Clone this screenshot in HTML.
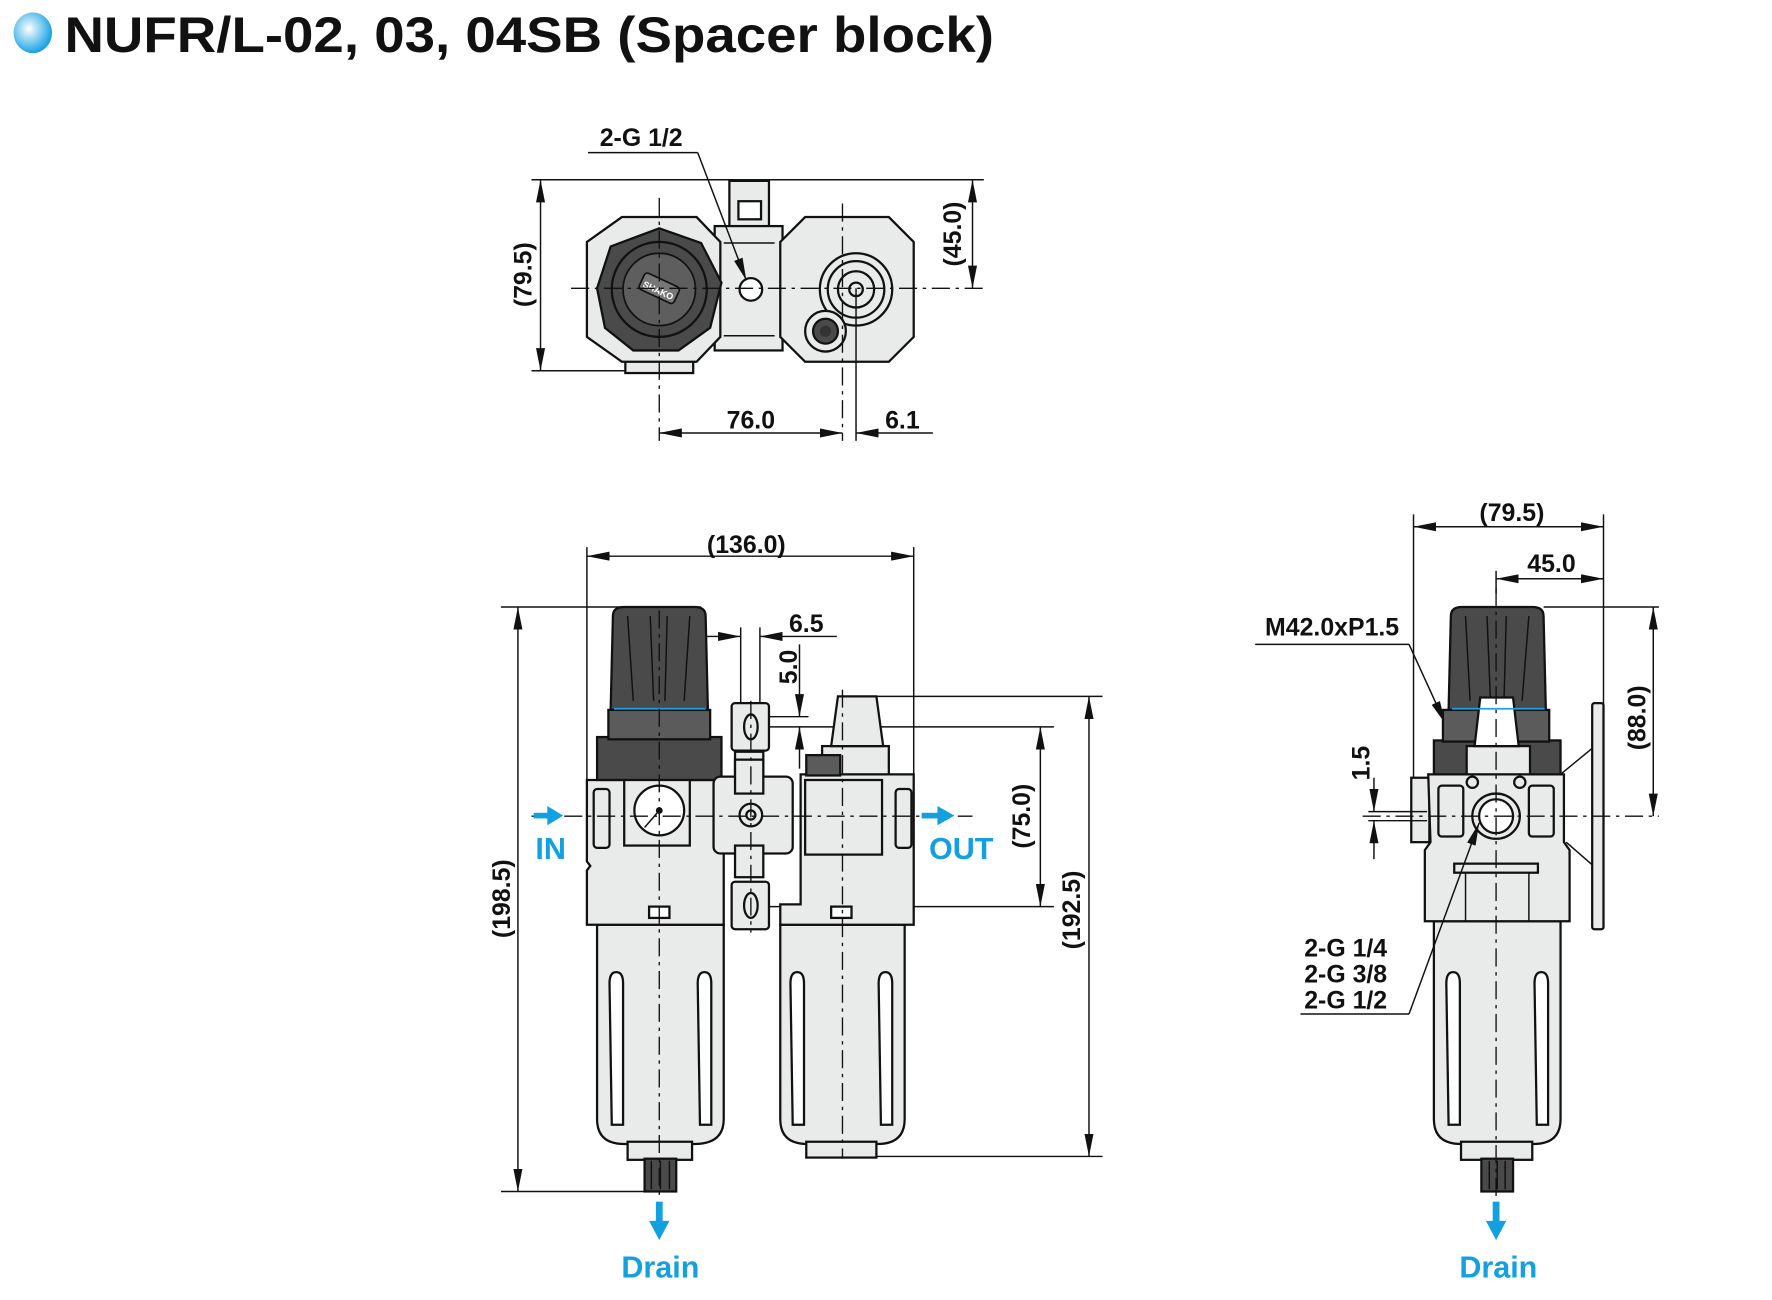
<!DOCTYPE html>
<html><head><meta charset="utf-8"><style>
html,body{margin:0;padding:0;background:#fff;}
svg{display:block;}
text{font-family:"Liberation Sans",sans-serif;font-weight:bold;fill:#111;}
.b{fill:#e9ebea;stroke:#111;stroke-width:2;}
.d{fill:#5b5b5b;stroke:#111;stroke-width:2;}
.dk{fill:#4a4a4a;stroke:#111;stroke-width:2;}
.l{stroke:#111;stroke-width:1.3;fill:none;}
.c{stroke:#111;stroke-width:1.2;fill:none;stroke-dasharray:16 5 3 5;}
.w{fill:#fff;stroke:#111;stroke-width:2;}
.blue{fill:#12a0e0;}
</style></head><body>
<svg width="1772" height="1300" viewBox="0 0 1567 1150" preserveAspectRatio="none" xmlns="http://www.w3.org/2000/svg">
<defs>
<marker id="a" viewBox="0 0 20 8" refX="20" refY="4" markerWidth="20" markerHeight="8" markerUnits="userSpaceOnUse" orient="auto-start-reverse"><path d="M0,0 L20,4 L0,8 Z" fill="#111"/></marker>
<radialGradient id="g" cx="0.4" cy="0.4" r="0.6"><stop offset="0" stop-color="#fff"/><stop offset="1" stop-color="#1aa3e4"/></radialGradient>
</defs>
<ellipse cx="29" cy="29" rx="17" ry="18" fill="url(#g)"/>
<text x="57" y="46" font-size="44" textLength="822" lengthAdjust="spacingAndGlyphs">NUFR/L-02, 03, 04SB (Spacer block)</text>

<line class="l" x1="470" y1="159" x2="870" y2="159"/>
<line class="l" x1="470" y1="328" x2="580" y2="328"/>
<line class="l" x1="478" y1="159" x2="478" y2="328" marker-start="url(#a)" marker-end="url(#a)"/>
<text x="470" y="243" font-size="22" text-anchor="middle" transform="rotate(-90 470 243)">(79.5)</text>
<line class="l" x1="860" y1="159" x2="860" y2="255" marker-start="url(#a)" marker-end="url(#a)"/>
<text x="850" y="207" font-size="22" text-anchor="middle" transform="rotate(-90 850 207)">(45.0)</text>
<rect class="b" x="645" y="160" width="35" height="42"/>
<rect class="w" x="653" y="178" width="20" height="16"/>
<rect class="b" x="632" y="200" width="60" height="110"/>
<line class="l" x1="640" y1="215" x2="685" y2="215"/><line class="l" x1="640" y1="297" x2="685" y2="297"/>
<circle class="w" cx="664" cy="256" r="10"/>
<rect class="b" x="553" y="300" width="60" height="30"/>
<polygon class="b" points="550,192 616,192 637,214 637,298 616,320 550,320 519,298 519,214"/>
<polygon class="dk" points="583,202 620,215 638,250 628,290 600,310 560,310 535,290 528,255 540,218"/>
<circle fill="none" stroke="#111" stroke-width="2" cx="583" cy="256" r="42"/>
<circle fill="#5e5e5e" stroke="#111" stroke-width="1.5" cx="583" cy="256" r="32"/>
<rect x="566" y="247" width="34" height="16" rx="3" fill="#777" stroke="#111" stroke-width="1.5" transform="rotate(25 583 255)"/>
<text x="583" y="260" font-size="8" text-anchor="middle" transform="rotate(25 583 255)" style="fill:#fff">SHAKO</text>
<polygon class="b" points="712,192 786,192 808,214 808,298 786,320 712,320 690,298 690,214"/>
<circle class="b" cx="757" cy="256" r="32"/>
<circle class="b" cx="757" cy="256" r="25"/>
<circle class="b" cx="757" cy="256" r="16"/>
<circle class="b" cx="757" cy="256" r="6"/>
<circle class="b" cx="730" cy="293" r="18"/>
<circle class="dk" cx="730" cy="293" r="11"/>
<circle fill="#333" cx="730" cy="293" r="5"/>
<line class="c" x1="505" y1="255" x2="870" y2="255"/>
<line class="c" x1="583" y1="175" x2="583" y2="390"/>
<line class="c" x1="745" y1="180" x2="745" y2="390"/>
<line class="l" x1="757" y1="255" x2="757" y2="390"/>
<line class="l" x1="583" y1="383" x2="745" y2="383" marker-start="url(#a)" marker-end="url(#a)"/>
<line class="l" x1="757" y1="383" x2="825" y2="383" marker-start="url(#a)"/>
<text x="664" y="379" font-size="22" text-anchor="middle">76.0</text>
<text x="798" y="379" font-size="22" text-anchor="middle">6.1</text>
<text x="567" y="129" font-size="22" text-anchor="middle">2-G 1/2</text>
<line class="l" x1="520" y1="135" x2="617" y2="135"/>
<line class="l" x1="617" y1="135" x2="660" y2="248" marker-end="url(#a)"/>

<line class="l" x1="519" y1="484" x2="519" y2="700"/>
<line class="l" x1="808" y1="484" x2="808" y2="700"/>
<line class="l" x1="519" y1="492" x2="808" y2="492" marker-start="url(#a)" marker-end="url(#a)"/>
<text x="660" y="489" font-size="22" text-anchor="middle">(136.0)</text>
<line class="l" x1="443" y1="537" x2="620" y2="537"/>
<line class="l" x1="443" y1="1054" x2="570" y2="1054"/>
<line class="l" x1="458" y1="537" x2="458" y2="1054" marker-start="url(#a)" marker-end="url(#a)"/>
<text x="451" y="795" font-size="22" text-anchor="middle" transform="rotate(-90 451 795)">(198.5)</text>
<line class="l" x1="770" y1="616" x2="975" y2="616"/>
<line class="l" x1="775" y1="1023" x2="975" y2="1023"/>
<line class="l" x1="963" y1="616" x2="963" y2="1023" marker-start="url(#a)" marker-end="url(#a)"/>
<text x="955" y="805" font-size="22" text-anchor="middle" transform="rotate(-90 955 805)">(192.5)</text>
<line class="l" x1="680" y1="643" x2="932" y2="643"/>
<line class="l" x1="680" y1="802" x2="932" y2="802"/>
<line class="l" x1="920" y1="643" x2="920" y2="802" marker-start="url(#a)" marker-end="url(#a)"/>
<text x="911" y="722" font-size="22" text-anchor="middle" transform="rotate(-90 911 722)">(75.0)</text>
<line class="l" x1="655" y1="555" x2="655" y2="640"/><line class="l" x1="672" y1="555" x2="672" y2="640"/>
<line class="l" x1="625" y1="563" x2="655" y2="563" marker-end="url(#a)"/>
<line class="l" x1="740" y1="563" x2="672" y2="563" marker-end="url(#a)"/>
<text x="713" y="559" font-size="22" text-anchor="middle">6.5</text>
<line class="l" x1="680" y1="634" x2="715" y2="634"/>
<line class="l" x1="707" y1="570" x2="707" y2="634" marker-end="url(#a)"/>
<line class="l" x1="707" y1="680" x2="707" y2="643" marker-end="url(#a)"/>
<text x="705" y="590" font-size="22" text-anchor="middle" transform="rotate(-90 705 590)">5.0</text>

<path class="b" d="M528,818 L528,990 Q528,1012 552,1012 L614,1012 Q640,1012 640,990 L640,818 Z"/>
<rect class="b" x="555" y="1010" width="57" height="16"/>
<rect class="dk" x="570" y="1025" width="28" height="29"/>
<line class="l" x1="576" y1="1027" x2="576" y2="1052"/><line class="l" x1="584" y1="1027" x2="584" y2="1052"/><line class="l" x1="592" y1="1027" x2="592" y2="1052"/>
<path class="w" d="M539,870 Q539,860 545,860 Q551,860 551,870 L551,995 L541,995 Z"/>
<path class="w" d="M617,870 Q617,860 623,860 Q629,860 629,870 L629,995 L619,995 Z"/>
<path class="b" d="M519,690 L640,690 L640,818 L519,818 L519,770 L522,766 L519,762 Z"/>
<rect class="b" x="525" y="698" width="14" height="52" rx="3"/>
<rect class="b" x="552" y="688" width="58" height="60"/>
<circle class="w" cx="583" cy="717" r="22"/>
<line class="l" x1="583" y1="717" x2="570" y2="732"/><circle fill="#111" cx="583" cy="717" r="3"/>
<rect class="w" x="574" y="802" width="18" height="10"/>
<rect class="dk" x="528" y="652" width="110" height="38"/>
<rect class="d" x="538" y="628" width="90" height="26"/>
<path class="dk" d="M542,545 Q542,537 552,537 L614,537 Q624,537 624,545 L626,628 L540,628 Z"/>
<line class="l" x1="555" y1="545" x2="560" y2="620"/><line class="l" x1="575" y1="545" x2="578" y2="620"/><line class="l" x1="590" y1="545" x2="588" y2="620"/><line class="l" x1="610" y1="545" x2="605" y2="620"/>
<line stroke="#1aa3e4" stroke-width="1.5" x1="543" y1="627" x2="624" y2="627"/>
<rect class="b" x="647" y="622" width="33" height="42" rx="3"/>
<rect class="b" x="650" y="665" width="25" height="20"/>
<rect class="b" x="631" y="687" width="70" height="68" rx="6"/>
<rect class="b" x="650" y="672" width="25" height="30"/>
<circle class="b" cx="664" cy="721" r="10"/><circle class="b" cx="664" cy="721" r="4"/>
<rect class="b" x="650" y="748" width="25" height="28"/>
<rect class="b" x="647" y="780" width="33" height="42" rx="3"/>
<ellipse class="b" cx="664" cy="643" rx="6" ry="11"/>
<ellipse class="b" cx="664" cy="801" rx="6" ry="11"/>
<path class="b" d="M690,818 L690,990 Q690,1012 714,1012 L776,1012 Q800,1012 800,990 L800,818 Z"/>
<rect class="b" x="713" y="1010" width="62" height="14"/>
<path class="w" d="M699,870 Q699,860 705,860 Q711,860 711,870 L711,995 L701,995 Z"/>
<path class="w" d="M777,870 Q777,860 783,860 Q789,860 789,870 L789,995 L779,995 Z"/>
<path class="b" d="M708,685 L808,685 L808,818 L690,818 L690,800 L708,800 Z"/>
<rect class="b" x="792" y="698" width="14" height="52" rx="3"/>
<rect class="b" x="712" y="690" width="68" height="66"/>
<rect class="w" x="735" y="802" width="18" height="10"/>
<rect class="b" x="727" y="660" width="59" height="25"/>
<rect class="d" x="713" y="668" width="30" height="18"/>
<path class="b" d="M741,616 L775,616 L781,660 L735,660 Z"/>
<line class="c" x1="470" y1="722" x2="860" y2="722"/>
<line class="c" x1="583" y1="540" x2="583" y2="1060"/>
<line class="c" x1="745" y1="610" x2="745" y2="1025"/>
<line class="c" x1="664" y1="620" x2="664" y2="825"/>
<rect class="blue" x="472" y="719" width="14" height="5"/><path class="blue" d="M484,713 L498,721.5 L484,730 Z"/>
<text x="487" y="760" font-size="27" text-anchor="middle" style="fill:#12a0e0">IN</text>
<rect class="blue" x="815" y="719" width="16" height="5"/><path class="blue" d="M829,713 L844,721.5 L829,730 Z"/>
<text x="850" y="760" font-size="27" text-anchor="middle" style="fill:#12a0e0">OUT</text>
<rect class="blue" x="580" y="1063" width="6" height="20"/><path class="blue" d="M574,1080 L592,1080 L583,1097 Z"/>
<text x="584" y="1130" font-size="27" text-anchor="middle" style="fill:#12a0e0">Drain</text>

<line class="l" x1="1250" y1="455" x2="1250" y2="690"/>
<line class="l" x1="1418" y1="455" x2="1418" y2="625"/>
<line class="l" x1="1250" y1="466" x2="1418" y2="466" marker-start="url(#a)" marker-end="url(#a)"/>
<text x="1337" y="461" font-size="22" text-anchor="middle">(79.5)</text>
<line class="l" x1="1323" y1="505" x2="1323" y2="525"/>
<line class="l" x1="1323" y1="512" x2="1418" y2="512" marker-start="url(#a)" marker-end="url(#a)"/>
<text x="1372" y="506" font-size="22" text-anchor="middle">45.0</text>
<line class="l" x1="1365" y1="537" x2="1467" y2="537"/>
<line class="l" x1="1462" y1="537" x2="1462" y2="722" marker-start="url(#a)" marker-end="url(#a)"/>
<text x="1455" y="635" font-size="22" text-anchor="middle" transform="rotate(-90 1455 635)">(88.0)</text>
<text x="1178" y="562" font-size="22" text-anchor="middle">M42.0xP1.5</text>
<line class="l" x1="1110" y1="570" x2="1246" y2="570"/>
<line class="l" x1="1246" y1="570" x2="1278" y2="640" marker-end="url(#a)"/>
<rect class="b" x="1408" y="622" width="10" height="200" rx="2"/>
<line class="l" x1="1380" y1="685" x2="1408" y2="662"/>
<line class="l" x1="1385" y1="745" x2="1408" y2="765"/>
<path class="b" d="M1268,815 L1268,990 Q1268,1012 1292,1012 L1356,1012 Q1380,1012 1380,990 L1380,815 Z"/>
<rect class="b" x="1292" y="1010" width="63" height="16"/>
<rect class="dk" x="1310" y="1025" width="28" height="29"/>
<line class="l" x1="1317" y1="1027" x2="1317" y2="1052"/><line class="l" x1="1324" y1="1027" x2="1324" y2="1052"/><line class="l" x1="1331" y1="1027" x2="1331" y2="1052"/>
<path class="w" d="M1279,870 Q1279,860 1285,860 Q1291,860 1291,870 L1291,995 L1281,995 Z"/>
<path class="w" d="M1357,870 Q1357,860 1363,860 Q1369,860 1369,870 L1369,995 L1359,995 Z"/>
<rect class="b" x="1248" y="688" width="16" height="57"/>
<path class="b" d="M1263,685 L1383,685 L1383,745 L1388,752 L1388,815 L1260,815 L1260,752 L1265,745 Z"/>
<rect class="b" x="1272" y="695" width="22" height="45" rx="3"/>
<rect class="b" x="1352" y="695" width="22" height="45" rx="3"/>
<rect class="b" x="1286" y="764" width="74" height="8"/>
<line class="l" x1="1296" y1="772" x2="1296" y2="815"/><line class="l" x1="1352" y1="772" x2="1352" y2="815"/>
<ellipse class="b" cx="1323" cy="722" rx="21" ry="20"/><ellipse class="w" cx="1323" cy="722" rx="15" ry="15"/>
<circle class="b" cx="1302" cy="692" r="5"/><circle class="b" cx="1344" cy="692" r="5"/>
<rect class="dk" x="1268" y="655" width="112" height="30"/>
<rect class="d" x="1276" y="628" width="94" height="28"/>
<rect class="b" x="1297" y="660" width="56" height="25"/>
<path class="dk" d="M1283,545 Q1283,537 1293,537 L1355,537 Q1365,537 1365,545 L1367,628 L1281,628 Z"/>
<line class="l" x1="1296" y1="545" x2="1300" y2="620"/><line class="l" x1="1315" y1="545" x2="1318" y2="620"/><line class="l" x1="1332" y1="545" x2="1330" y2="620"/><line class="l" x1="1352" y1="545" x2="1346" y2="620"/>
<path class="w" d="M1309,617 L1338,617 L1343,660 L1304,660 Z"/>
<line stroke="#1aa3e4" stroke-width="1.5" x1="1284" y1="627" x2="1366" y2="627"/>
<line class="c" x1="1205" y1="722" x2="1467" y2="722"/>
<line class="c" x1="1323" y1="520" x2="1323" y2="1060"/>
<line class="l" x1="1210" y1="718" x2="1262" y2="718"/>
<line class="l" x1="1210" y1="726" x2="1262" y2="726"/>
<line class="l" x1="1215" y1="688" x2="1215" y2="718" marker-end="url(#a)"/>
<line class="l" x1="1215" y1="760" x2="1215" y2="726" marker-end="url(#a)"/>
<text x="1211" y="675" font-size="22" text-anchor="middle" transform="rotate(-90 1211 675)">1.5</text>
<text x="1190" y="846" font-size="22" text-anchor="middle">2-G 1/4</text>
<text x="1190" y="869" font-size="22" text-anchor="middle">2-G 3/8</text>
<text x="1190" y="892" font-size="22" text-anchor="middle">2-G 1/2</text>
<line class="l" x1="1150" y1="897" x2="1246" y2="897"/>
<line class="l" x1="1246" y1="897" x2="1308" y2="728" marker-end="url(#a)"/>
<rect class="blue" x="1320" y="1063" width="6" height="20"/><path class="blue" d="M1314,1080 L1332,1080 L1323,1097 Z"/>
<text x="1325" y="1130" font-size="27" text-anchor="middle" style="fill:#12a0e0">Drain</text>
</svg>
</body></html>
